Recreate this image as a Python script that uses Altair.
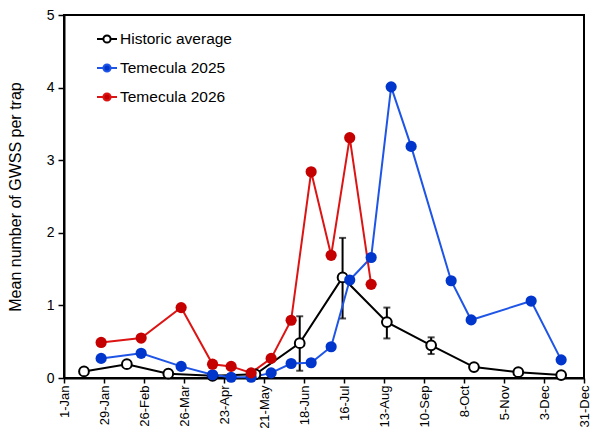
import json
import altair as alt
import pandas as pd

# ---- data (day of year, 0 = 1-Jan) ----
series_names = ["Historic average", "Temecula 2025", "Temecula 2026"]

hist_days = [14, 44, 73, 104, 134, 165, 195, 226, 257, 287, 318, 348]
hist_vals = [0.09, 0.19, 0.06, 0.03, 0.05, 0.48, 1.385, 0.77, 0.45, 0.15, 0.08, 0.04]

err_days = [165, 195, 226, 257]
err_lo = [0.10, 0.82, 0.545, 0.33]
err_hi = [0.85, 1.93, 0.97, 0.56]

t25_days = [26, 54, 82, 104, 117, 131, 145, 159, 173, 187, 200, 215, 229, 243, 271, 285, 327, 348]
t25_vals = [0.27, 0.34, 0.16, 0.045, 0.01, 0.01, 0.07, 0.20, 0.21, 0.43, 1.35, 1.66, 4.01, 3.19, 1.34, 0.80, 1.06, 0.25]

t26_days = [26, 54, 82, 104, 117, 131, 145, 159, 173, 187, 200, 215]
t26_vals = [0.49, 0.55, 0.97, 0.19, 0.16, 0.07, 0.27, 0.795, 2.84, 1.69, 3.31, 1.29]

tick_days = [0, 28, 56, 84, 112, 140, 168, 196, 224, 252, 280, 308, 336, 364]
tick_labels = ["1-Jan", "29-Jan", "26-Feb", "26-Mar", "23-Apr", "21-May", "18-Jun",
               "16-Jul", "13-Aug", "10-Sep", "8-Oct", "5-Nov", "3-Dec", "31-Dec"]
y_ticks = [0, 1, 2, 3, 4, 5]

line_colors = ["#000000", "#1f55e6", "#dd1414"]
fill_colors = ["#ffffff", "#0036cc", "#c40000"]

# ---- tables ----
rows = []
for name, days, vals in [(series_names[0], hist_days, hist_vals),
                         (series_names[1], t25_days, t25_vals),
                         (series_names[2], t26_days, t26_vals)]:
    for i, (d, v) in enumerate(zip(days, vals)):
        rows.append({"series": name, "day": d, "value": v, "idx": i})
df = pd.DataFrame(rows)

err_df = pd.DataFrame({"day": err_days, "lo": err_lo, "hi": err_hi})
cap_df = pd.DataFrame({"day": err_days + err_days, "v": err_lo + err_hi})

FONT = "Liberation Sans"
label_expr = json.dumps(tick_labels) + "[round(datum.value / 28)]"

legend_path = ("M-1,0H-0.36M0.36,0H1"
               "M-0.36,0A0.36,0.36,0,1,1,0.36,0A0.36,0.36,0,1,1,-0.36,0Z")

x_enc = alt.X("day:Q",
              scale=alt.Scale(domain=[0, 364], nice=False, zero=False),
              axis=alt.Axis(values=tick_days, tickCount=30, labelExpr=label_expr, labelAngle=-90,
                            title=None, grid=False, domainColor="black", domainWidth=2,
                            tickColor="black", tickWidth=1.5, tickSize=5,
                            labelFont=FONT, labelFontSize=13, labelColor="black",
                            labelPadding=2, labelOverlap=False, labelFlush=False,
                            labelSeparation=0))
y_enc = alt.Y("value:Q",
              scale=alt.Scale(domain=[0, 5], nice=False),
              axis=alt.Axis(values=y_ticks, tickCount=10, format="d",
                            title="Mean number of GWSS per trap",
                            grid=False, domainColor="black", domainWidth=2,
                            tickColor="black", tickWidth=1.5, tickSize=6,
                            labelFont=FONT, labelFontSize=14, labelColor="black",
                            labelPadding=4, titleFont=FONT, titleFontSize=16,
                            titleFontWeight="normal", titleColor="black", titlePadding=23))

legend = alt.Legend(title=None, orient="none", legendX=32, legendY=13,
                    symbolType=legend_path, symbolSize=400, symbolStrokeWidth=2,
                    labelFont=FONT, labelFontSize=15.5, labelColor="black",
                    labelOffset=2, rowPadding=9, padding=0)

stroke_enc = alt.Stroke("series:N", scale=alt.Scale(domain=series_names, range=line_colors),
                        legend=legend)
fill_enc = alt.Fill("series:N", scale=alt.Scale(domain=series_names, range=fill_colors),
                    legend=legend)

base = alt.Chart(df)

lines = base.mark_line(strokeWidth=2).encode(
    x=x_enc, y=y_enc, stroke=stroke_enc, order="idx:Q", detail="series:N")

err_rules = alt.Chart(err_df).mark_rule(color="black", strokeWidth=2).encode(
    x="day:Q", y="lo:Q", y2="hi:Q")
err_caps = alt.Chart(cap_df).mark_tick(color="black", thickness=2, size=7,
                                       orient="horizontal").encode(x="day:Q", y="v:Q")

points = base.mark_point(filled=True, opacity=1).encode(
    x="day:Q", y="value:Q", fill=fill_enc, stroke=stroke_enc,
    strokeWidth=alt.condition(alt.datum.series == "Historic average", alt.value(2), alt.value(0)),
    size=alt.condition(alt.datum.series == "Historic average", alt.value(95), alt.value(125)))

chart = alt.layer(err_rules, err_caps, lines, points).properties(
    width=520, height=363,
    autosize=alt.AutoSizeParams(type="none"),
    padding={"left": 56, "top": 7, "right": 8, "bottom": 50},
    background="white",
).configure_view(stroke="black", strokeWidth=2)

chart.save("out.html", embed_options={"renderer": "svg", "actions": False})
